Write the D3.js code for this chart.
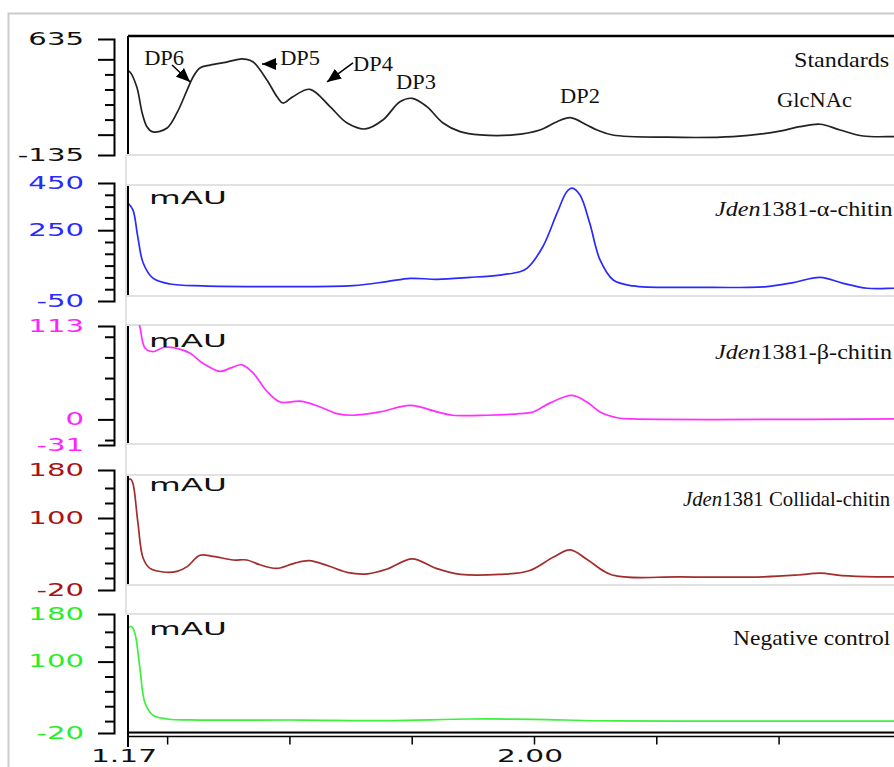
<!DOCTYPE html>
<html>
<head>
<meta charset="utf-8">
<script src="https://cdn.jsdelivr.net/npm/d3@7/dist/d3.min.js"></script>
<style>
  body { margin: 0; background: #fff; }
  svg { display: block; }
</style>
</head>
<body>
<svg id="chart" width="894" height="767"></svg>
<script>
// ---- Retention time (min) and absorbance (mAU) of each chromatogram ----
const standardsTime = [1.170, 1.174, 1.188, 1.199, 1.209, 1.221, 1.250, 1.270, 1.291, 1.303, 1.317, 1.338, 1.372, 1.399, 1.412, 1.426, 1.454, 1.475, 1.487, 1.507, 1.542, 1.583, 1.618, 1.655, 1.691, 1.726, 1.751, 1.781, 1.814, 1.849, 1.890, 1.957, 2.012, 2.047, 2.074, 2.108, 2.129, 2.161, 2.272, 2.407, 2.497, 2.544, 2.585, 2.626, 2.673, 2.734, 2.750];
const standardsSignal = [423, 416, 316, 144, 51, 18, 44, 144, 297, 383, 443, 462, 482, 502, 500, 482, 363, 250, 210, 252, 301, 186, 77, 38, 97, 219, 241, 186, 77, 20, -2, -2, 31, 86, 113, 64, 31, -2, -17, -13, 20, 53, 69, 31, -9, -13, -13];

const alphaTime = [1.170, 1.180, 1.190, 1.201, 1.221, 1.256, 1.323, 1.460, 1.630, 1.699, 1.747, 1.802, 1.869, 1.930, 1.971, 1.986, 2.018, 2.047, 2.067, 2.078, 2.094, 2.114, 2.135, 2.162, 2.202, 2.339, 2.476, 2.530, 2.585, 2.632, 2.681, 2.736, 2.750];
const alphaSignal = [364, 336, 222, 111, 47, 22, 14, 11, 15, 32, 46, 42, 50, 60, 74, 89, 180, 322, 413, 428, 399, 279, 124, 39, 14, 8, 11, 28, 50, 25, 4, 4, 4];

const betaTime = [1.170, 1.180, 1.190, 1.195, 1.205, 1.221, 1.242, 1.270, 1.297, 1.323, 1.358, 1.379, 1.403, 1.426, 1.454, 1.481, 1.522, 1.563, 1.597, 1.630, 1.685, 1.747, 1.802, 1.834, 1.904, 1.971, 1.998, 2.033, 2.078, 2.108, 2.135, 2.170, 2.202, 2.736, 2.750];
const betaSignal = [200, 165, 125, 110, 86, 82, 87, 86, 80, 68, 58, 62, 66, 56, 34, 21, 22, 15, 7, 5, 9, 17, 9, 5, 5, 7, 9, 20, 29, 21, 9, 2, 0.5, 0.5, 0.5];

const colloidalTime = [1.170, 1.175, 1.180, 1.190, 1.201, 1.215, 1.242, 1.270, 1.291, 1.317, 1.344, 1.385, 1.413, 1.440, 1.474, 1.508, 1.540, 1.580, 1.620, 1.660, 1.700, 1.751, 1.800, 1.850, 1.930, 1.990, 2.040, 2.074, 2.110, 2.160, 2.300, 2.470, 2.540, 2.585, 2.630, 2.700, 2.750];
const colloidalSignal = [163, 165, 158, 94, 33, 16, 10, 11, 19, 38, 36, 30, 30, 22, 16, 24, 29, 20, 9, 7, 15, 32, 16, 6, 6, 12, 35, 47, 30, 5, 2, 2, 5, 8, 4, 2, 2];

const negativeTime = [1.170, 1.177, 1.184, 1.194, 1.205, 1.221, 1.250, 1.317, 1.521, 1.700, 1.870, 2.000, 2.130, 2.300, 2.736, 2.750];
const negativeSignal = [156, 159, 148, 91, 30, 10, 3.5, 1.8, 1.8, 0.8, 3.5, 3.0, 0.6, 0, -0.1, -0.1];

// ---- Axis ranges and tick labels ----
const yDomains = [[-135, 635], [-50, 450], [-31, 113], [-20, 180], [-20, 180]];
const yMinorTicks = [
  [100, 200, 300, 400],
  [0, 50, 100, 150, 200, 300, 350, 400],
  [-25, 25, 50, 75, 100],
  [0, 25, 50, 75, 125, 150],
  [0, 25, 50, 75, 125, 150]
];
const yMajorTicks = [[0, 500], [250], [0], [100], [100]];
const yTickLabels = [["635", "-135"], ["450", "250", "-50"], ["113", "0", "-31"], ["180", "100", "-20"], ["180", "100", "-20"]];
const xTicks = [1.25, 1.50, 1.75, 2.00, 2.25, 2.50, 2.75];
const xTickLabels = ["1.17", "2.00"];

// ---- Sample names and standard peak names ----
const sampleItalic = ["", "Jden", "Jden", "Jden", ""];
const sampleRest = ["Standards", "1381-α-chitin", "1381-β-chitin", "1381 Collidal-chitin", "Negative control"];
const peakNames = ["DP6", "DP5", "DP4", "DP3", "DP2", "GlcNAc"];

// ---- Layout ----
const svg = d3.select("#chart");
const x = d3.scaleLinear().domain([1.17, 2.00]).range([128, 534]);
const xEnd = 905;

const layout = [
  { axisTop: 39,  axisBottom: 155, frameTop: 36,  frameBottom: 155, line: "#222222", text: "#111111", labelX: 794, labelDy: 28, labelSx: 1.15 },
  { axisTop: 183, axisBottom: 301, frameTop: 185, frameBottom: 296, line: "#2a2aff", text: "#2a2aff", labelX: 715, labelDy: 33, labelSx: 1.15 },
  { axisTop: 326, axisBottom: 445, frameTop: 325, frameBottom: 444, line: "#ff30ff", text: "#ff22ff", labelX: 715, labelDy: 33, labelSx: 1.15 },
  { axisTop: 470, axisBottom: 590, frameTop: 475, frameBottom: 585, line: "#a32d2d", text: "#a81414", labelX: 683, labelDy: 36, labelSx: 0.99 },
  { axisTop: 614, axisBottom: 733, frameTop: 614, frameBottom: 733, line: "#3cf03c", text: "#28ee28", labelX: 733, labelDy: 31, labelSx: 1.12 }
];
const series = [
  [standardsTime, standardsSignal],
  [alphaTime, alphaSignal],
  [betaTime, betaSignal],
  [colloidalTime, colloidalSignal],
  [negativeTime, negativeSignal]
];

const defs = svg.append("defs");
defs.append("marker")
  .attr("id", "head")
  .attr("viewBox", "0 0 14 12")
  .attr("refX", 14).attr("refY", 6)
  .attr("markerWidth", 14).attr("markerHeight", 12)
  .attr("markerUnits", "userSpaceOnUse")
  .attr("orient", "auto")
  .append("path").attr("d", "M0,0 L14,6 L0,12 Z").attr("fill", "#000");

// outer frame
svg.append("rect")
  .attr("x", 8.5).attr("y", 13.5).attr("width", 1000).attr("height", 900)
  .attr("fill", "none").attr("stroke", "#cccccc").attr("stroke-width", 2);

// light grey connector between stacked panels
svg.append("line")
  .attr("x1", 126).attr("x2", 126).attr("y1", 155).attr("y2", 614)
  .attr("stroke", "#d8d8d8").attr("stroke-width", 1.5);

// stretched text helper
function stretched(parent, px, py, sx) {
  return parent.append("g").attr("transform", `translate(${px},${py}) scale(${sx},1)`).append("text");
}

layout.forEach((p, i) => {
  const y = d3.scaleLinear().domain(yDomains[i]).range([p.axisBottom, p.axisTop]);
  const g = svg.append("g");

  // panel frame
  g.append("line").attr("x1", 126).attr("x2", xEnd).attr("y1", p.frameBottom).attr("y2", p.frameBottom)
    .attr("stroke", "#d8d8d8").attr("stroke-width", 1.5);
  if (i > 0) {
    g.append("line").attr("x1", 126).attr("x2", xEnd).attr("y1", p.frameTop).attr("y2", p.frameTop)
      .attr("stroke", "#d8d8d8").attr("stroke-width", 1.5);
  } else {
    g.append("line").attr("x1", 128).attr("x2", xEnd).attr("y1", p.frameTop).attr("y2", p.frameTop)
      .attr("stroke", "#000").attr("stroke-width", 2.5);
  }
  // inner vertical axis line
  g.append("line").attr("x1", 128).attr("x2", 128)
    .attr("y1", i === 0 ? p.frameTop : p.frameTop + 1).attr("y2", i === 4 ? p.frameBottom : p.frameBottom - 1)
    .attr("stroke", "#000").attr("stroke-width", 2);

  // left scale: minor ticks with long end brackets
  const minorAxis = g.append("g").attr("transform", "translate(114,0)")
    .call(d3.axisLeft(y).tickValues(yMinorTicks[i]).tickSize(9).tickSizeOuter(16).tickFormat(""));
  const majorAxis = g.append("g").attr("transform", "translate(114,0)")
    .call(d3.axisLeft(y).tickValues(yMajorTicks[i]).tickSize(16).tickSizeOuter(0).tickFormat(""));
  majorAxis.select(".domain").remove();
  [minorAxis, majorAxis].forEach(a => {
    a.selectAll("path, line").attr("stroke", "#000").attr("stroke-width", 2);
  });

  // tick labels (top end, labelled inner ticks, bottom end)
  const labelled = [yDomains[i][1]].concat(yTickLabels[i].length === 3 ? [+yTickLabels[i][1]] : []).concat([yDomains[i][0]]);
  labelled.forEach((v, k) => {
    stretched(g, 84, y(v) + 5.5, 1.62)
      .attr("text-anchor", "end")
      .attr("font-family", "'DejaVu Sans', Verdana, sans-serif")
      .attr("font-size", 18)
      .attr("fill", p.text)
      .text(yTickLabels[i][k]);
  });

  // trace
  const clipId = "clip" + i;
  defs.append("clipPath").attr("id", clipId).append("rect")
    .attr("x", 129).attr("y", p.frameTop).attr("width", 800).attr("height", p.frameBottom - p.frameTop);
  const [tArr, vArr] = series[i];
  const pts = tArr.map((t, k) => [t, vArr[k]]);
  g.append("path")
    .datum(pts)
    .attr("clip-path", `url(#${clipId})`)
    .attr("fill", "none")
    .attr("stroke", p.line)
    .attr("stroke-width", 1.7)
    .attr("stroke-linejoin", "round")
    .attr("d", d3.line().x(d => x(d[0])).y(d => y(d[1])).curve(d3.curveCatmullRom.alpha(0.5)));

  // unit label
  if (i > 0) {
    g.append("text")
      .attr("x", 149).attr("y", p.axisTop + 21)
      .attr("font-family", "'DejaVu Sans', Verdana, sans-serif")
      .attr("font-size", 17)
      .attr("textLength", 78).attr("lengthAdjust", "spacingAndGlyphs")
      .attr("fill", "#111")
      .text("mAU");
  }

  // sample name
  const name = stretched(g, p.labelX, p.axisTop + p.labelDy, p.labelSx)
    .attr("font-family", "'Liberation Serif', 'Times New Roman', serif")
    .attr("font-size", 21)
    .attr("fill", "#111");
  if (sampleItalic[i]) name.append("tspan").attr("font-style", "italic").text(sampleItalic[i]);
  name.append("tspan").text(sampleRest[i]);

  // peak annotations on the standards trace
  if (i === 0) {
    const peakLabelPos = [[1.203, 462], [1.481, 462], [1.630, 423], [1.718, 303], [2.053, 210], [2.497, 184]];
    peakNames.forEach((nm, k) => {
      stretched(g, x(peakLabelPos[k][0]), y(peakLabelPos[k][1]), 1.07)
        .attr("font-family", "'Liberation Serif', 'Times New Roman', serif")
        .attr("font-size", 21)
        .attr("fill", "#111")
        .text(nm);
    });
    const arrows = [
      [[1.260, 462], [1.297, 350]],
      [[1.475, 469], [1.444, 469]],
      [[1.630, 476], [1.577, 350]]
    ];
    arrows.forEach(a => {
      g.append("line")
        .attr("x1", x(a[0][0])).attr("y1", y(a[0][1]))
        .attr("x2", x(a[1][0])).attr("y2", y(a[1][1]))
        .attr("stroke", "#000").attr("stroke-width", 1.5)
        .attr("marker-end", "url(#head)");
    });
  }
});

// ---- Time axis ----
const xg = svg.append("g");
xg.append("line").attr("x1", 127).attr("x2", xEnd).attr("y1", 732.5).attr("y2", 732.5)
  .attr("stroke", "#000").attr("stroke-width", 2);
xg.append("line").attr("x1", 127).attr("x2", xEnd).attr("y1", 736.5).attr("y2", 736.5)
  .attr("stroke", "#000").attr("stroke-width", 1.5);
const xAxis = xg.append("g").attr("transform", "translate(0,736.5)")
  .call(d3.axisBottom(x).tickValues(xTicks).tickSize(8).tickFormat(""));
xAxis.select(".domain").remove();
xAxis.selectAll("line").attr("stroke", "#000").attr("stroke-width", 1.5);
xg.append("line").attr("x1", x(1.17)).attr("x2", x(1.17)).attr("y1", 732).attr("y2", 747)
  .attr("stroke", "#000").attr("stroke-width", 2);
[1.17, 2.00].forEach((t, k) => {
  stretched(xg, x(t) - 4, 762, 1.65)
    .attr("text-anchor", "middle")
    .attr("font-family", "'DejaVu Sans', Verdana, sans-serif")
    .attr("font-size", 18)
    .attr("fill", "#111")
    .text(xTickLabels[k]);
});
</script>
</body>
</html>
